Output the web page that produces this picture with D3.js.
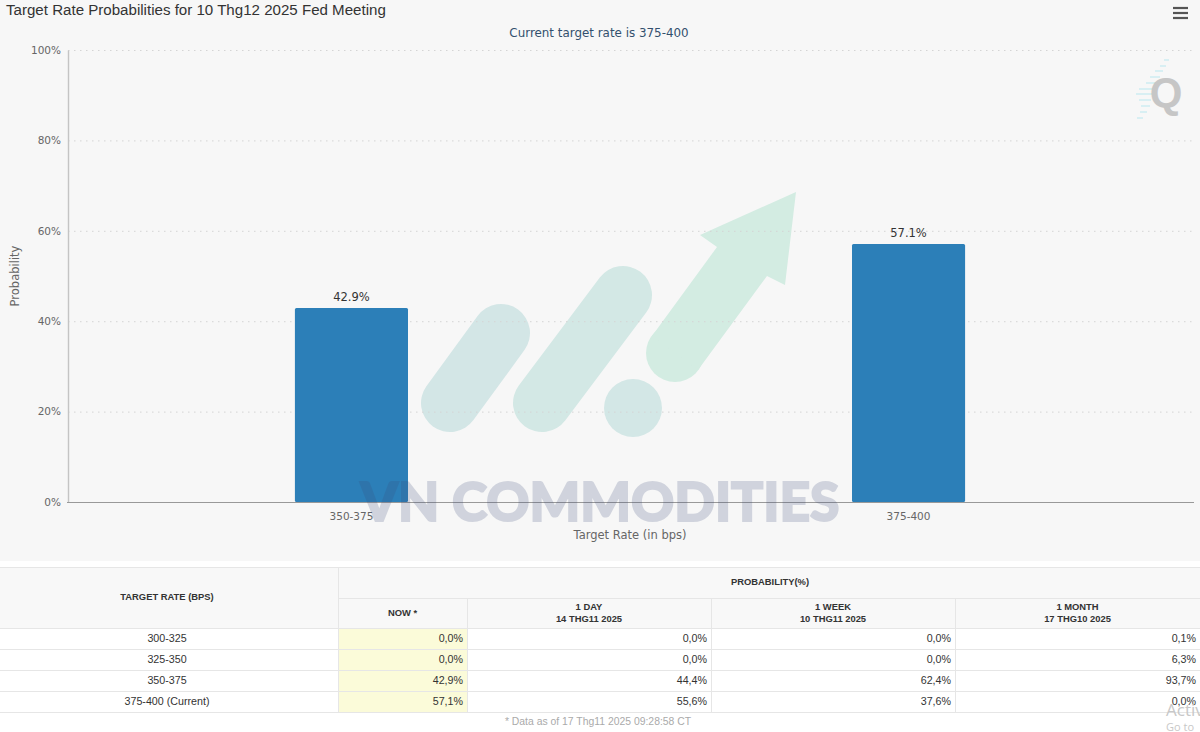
<!DOCTYPE html>
<html><head><meta charset="utf-8">
<script src="https://cdn.jsdelivr.net/npm/d3@7"></script>
<style>
html,body{margin:0;padding:0;background:#fff;overflow:hidden}
svg{display:block}
text{font-family:"DejaVu Sans",sans-serif}
.tb text{font-family:"Liberation Sans",Arial,sans-serif}
</style></head><body>
<svg id="c" width="1200" height="732"></svg>
<script>
const categories = ["350-375","375-400"];
const probabilities = [42.9,57.1];
const yTicks = [0,20,40,60,80,100];
const tableRates = ["300-325","325-350","350-375","375-400 (Current)"];
const colNow = ["0,0%","0,0%","42,9%","57,1%"];
const colDay = ["0,0%","0,0%","44,4%","55,6%"];
const colWeek = ["0,0%","0,0%","62,4%","37,6%"];
const colMonth = ["0,1%","6,3%","93,7%","0,0%"];
const colHeads = [["NOW"],["1 DAY","14 THG11 2025"],["1 WEEK","10 THG11 2025"],["1 MONTH","17 THG10 2025"]];

const svg = d3.select("#c");
svg.append("rect").attr("width",1200).attr("height",561).attr("fill","#f7f7f7");

const plot = {l:68,r:1195,t:50,b:502};
const y = d3.scaleLinear().domain([0,100]).range([plot.b,plot.t]);
const x = d3.scaleBand().domain(categories).range([plot.l-1.5,plot.r-1.5]).paddingInner(0.797).paddingOuter(0.41);

// watermark graphic (behind the chart)
const wm = svg.append("g");
const pill=(x1,y1,x2,y2,c)=>wm.append("line").attr("x1",x1).attr("y1",y1).attr("x2",x2).attr("y2",y2)
  .attr("stroke",c).attr("stroke-width",58).attr("stroke-linecap","round");
pill(450,403,501,333,"#d3e6e6");
pill(542,403,623,295,"#d3e8e5");
wm.append("circle").attr("cx",675).attr("cy",353).attr("r",29).attr("fill","#d3ece2");
wm.append("polygon").attr("points","796,192 700,235 717,247 652,336 698,370 767,276 785,285").attr("fill","#d3ece2");
wm.append("circle").attr("cx",633).attr("cy",408).attr("r",29).attr("fill","#d3e7e6");

// grid
svg.append("g").selectAll("line").data(yTicks.filter(d=>d>0)).join("line")
  .attr("x1",plot.l).attr("x2",plot.r).attr("y1",d=>y(d)+.5).attr("y2",d=>y(d)+.5)
  .attr("stroke","#d4d4d4").attr("stroke-dasharray","1.5,4.5");

// y axis
const ya = svg.append("g").attr("transform",`translate(${plot.l},0)`)
  .call(d3.axisLeft(y).tickValues(yTicks).tickFormat(d=>d+"%").tickSize(0).tickPadding(7));
ya.select(".domain").attr("stroke","#c4c4c4").attr("stroke-width",1.4);
ya.selectAll("text").attr("fill","#666").attr("font-size",10.5).style("font-family",'"DejaVu Sans"');

// bars
svg.append("g").selectAll("rect").data(probabilities).join("rect")
  .attr("x",(d,i)=>x(categories[i])).attr("width",x.bandwidth())
  .attr("y",d=>y(d)).attr("height",d=>y(0)-y(d))
  .attr("rx",1.5).attr("fill","#2c7fb8");
svg.append("g").selectAll("text").data(probabilities).join("text")
  .attr("x",(d,i)=>x(categories[i])+x.bandwidth()/2).attr("y",d=>y(d)-7)
  .attr("text-anchor","middle").attr("font-size",11.5).attr("fill","#333")
  .text(d=>d.toFixed(1)+"%");

// x axis
const xa = svg.append("g").attr("transform",`translate(0,${plot.b})`)
  .call(d3.axisBottom(x).tickSize(0).tickPadding(11));
xa.select(".domain").attr("stroke","#999").attr("stroke-width",1);
xa.selectAll("text").attr("fill","#666").attr("font-size",10.5).style("font-family",'"DejaVu Sans"');

// watermark wordmark: translucent, over the bars and the axis
svg.append("text").attr("x",600).attr("y",521).attr("text-anchor","middle").attr("font-size",54)
  .attr("textLength",479).attr("lengthAdjust","spacingAndGlyphs")
  .attr("font-weight",900).style("font-family",'Lato')
  .attr("stroke","#3a4a78").attr("stroke-width",2)
  .attr("fill","#3a4a78").attr("opacity",.2).text("VN COMMODITIES");

// titles
svg.append("text").attr("x",6).attr("y",15).attr("font-size",15.1).attr("fill","#333")
  .style("font-family",'"Liberation Sans"').text("Target Rate Probabilities for 10 Thg12 2025 Fed Meeting");
svg.append("text").attr("x",599).attr("y",37).attr("text-anchor","middle").attr("font-size",11.9)
  .attr("fill","#33506e").text("Current target rate is 375-400");
svg.append("text").attr("x",630).attr("y",539).attr("text-anchor","middle").attr("font-size",11.5)
  .attr("fill","#666").text("Target Rate (in bps)");
svg.append("text").attr("transform","translate(19,276) rotate(-90)").attr("text-anchor","middle").attr("font-size",11.5)
  .attr("fill","#666").text("Probability");

// menu icon
svg.append("g").selectAll("line").data([0,1,2]).join("line")
  .attr("x1",1173).attr("x2",1188).attr("y1",d=>8+d*5).attr("y2",d=>8+d*5)
  .attr("stroke","#555").attr("stroke-width",2.2);

// Q logo
const qg = svg.append("g");
[[1164,1169,60],[1160,1166,66],[1155,1163,71],[1150,1160,77],[1146,1156,83],[1139,1153,89],[1136,1152,94],[1139,1151,100],[1141,1150,106],[1140,1147,112],[1137,1143,118]]
 .forEach(s=>qg.append("line").attr("x1",s[0]).attr("x2",s[1]).attr("y1",s[2]).attr("y2",s[2])
   .attr("stroke","#d8eff3").attr("stroke-width",2));
svg.append("text").attr("x",1166).attr("y",107).attr("text-anchor","middle").attr("font-size",42)
  .attr("font-weight","bold").attr("fill","#c6c6c6").style("font-family",'"Liberation Sans"').text("Q");

// table
const tb = svg.append("g").attr("class","tb");
const colX = [0,338,467,711,955,1200];
const rowY = [628,649,670,691,712];
tb.append("rect").attr("x",0).attr("y",567).attr("width",1200).attr("height",61).attr("fill","#f8f8f8");
tb.append("rect").attr("x",colX[1]).attr("y",rowY[0]).attr("width",colX[2]-colX[1]).attr("height",rowY[4]-rowY[0]).attr("fill","#fbfbd9");
const hl=(x1,x2,yy,c)=>tb.append("line").attr("x1",x1).attr("x2",x2).attr("y1",yy+.5).attr("y2",yy+.5).attr("stroke",c||"#e6e6e6");
const vl=(xx,y1,y2)=>tb.append("line").attr("x1",xx+.5).attr("x2",xx+.5).attr("y1",y1).attr("y2",y2).attr("stroke","#e6e6e6");
hl(0,1200,567); hl(338,1200,598);
rowY.forEach(r=>hl(0,1200,r));
vl(338,567,712);
[467,711,955].forEach(c=>vl(c,598,712));
const hd=(xx,yy,s)=>tb.append("text").attr("x",xx).attr("y",yy).attr("text-anchor","middle")
  .attr("font-size",9.4).attr("font-weight","bold").attr("fill","#333").text(s);
hd(167,600,"TARGET RATE (BPS)");
hd(770,585,"PROBABILITY(%)");
colHeads.forEach((h,i)=>{
  const cx=(colX[i+1]+colX[i+2])/2;
  if(h.length===1){hd(cx,616,h[0]+" *");}
  else{hd(cx,610,h[0]);hd(cx,622,h[1]);}
});
tb.append("g").selectAll("text").data(tableRates).join("text")
  .attr("x",167).attr("y",(d,i)=>rowY[i]+14).attr("text-anchor","middle").attr("font-size",10.7).attr("fill","#333").text(d=>d);
[colNow,colDay,colWeek,colMonth].forEach((col,c)=>{
  tb.append("g").selectAll("text").data(col).join("text")
    .attr("x",colX[c+2]-4).attr("y",(d,i)=>rowY[i]+14).attr("text-anchor","end")
    .attr("font-size",10.7).attr("fill","#333").text(d=>d);
});
tb.append("text").attr("x",598).attr("y",725).attr("text-anchor","middle").attr("font-size",10.4)
  .attr("fill","#aaa").text("* Data as of 17 Thg11 2025 09:28:58 CT");

// OS overlay text
svg.append("text").attr("x",1166).attr("y",716).attr("font-size",17).attr("fill","#c8c8c8").style("font-family",'"Open Sans"').text("Activ");
svg.append("text").attr("x",1166).attr("y",731).attr("font-size",11).attr("fill","#c8c8c8").style("font-family",'"Open Sans"').text("Go to");
</script>
</body></html>
